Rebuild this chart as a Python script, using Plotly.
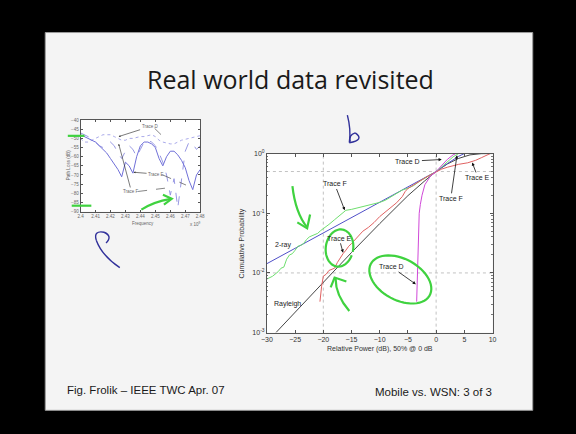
import numpy as np
import plotly.graph_objects as go

W, H = 576, 434

# ---------------- Main CDF panel data ----------------
# Relative power (dB, median normalised to 0 dB) vs cumulative probability
rayleigh_x = [-28.4, -25, -20, -15, -10, -5, -2, 0, 2, 4, 6, 8, 10]
rayleigh_p = [0.001, 0.0022, 0.0069, 0.022, 0.067, 0.197, 0.35, 0.5, 0.67, 0.83, 0.95, 0.995, 1.0]

tworay_x = [-30, -25, -20, -15, -10, -5, -2, 0, 2, 4, 5]
tworay_p = [0.0143, 0.026, 0.047, 0.085, 0.153, 0.28, 0.4, 0.5, 0.68, 0.9, 1.0]

traceF_x = [-30, -29, -28, -27.5, -27, -26.5, -26, -25.5, -25, -24.5, -24, -23.5, -23, -22.5,
            -22, -21, -20.5, -20, -19, -18, -17, -16.5, -16, -15, -14, -13, -12, -11, -10,
            -9, -8, -7, -6, -5, -4, -3, -2, -1, 0, 1, 2, 3, 4]
traceF_p = [0.0079, 0.0088, 0.0105, 0.012, 0.0125, 0.017, 0.02, 0.021, 0.024, 0.028, 0.029,
            0.031, 0.036, 0.04, 0.042, 0.046, 0.051, 0.055, 0.065, 0.078, 0.095, 0.105, 0.112,
            0.116, 0.122, 0.128, 0.135, 0.142, 0.152, 0.165, 0.19, 0.22, 0.245, 0.262, 0.29,
            0.34, 0.39, 0.44, 0.5, 0.6, 0.72, 0.88, 1.0]

traceE_x = [-20.6, -20.5, -20.3, -20, -19.5, -19, -18.5, -18, -17.5, -17, -16.5, -16, -15.5,
            -15, -14, -13, -12, -11, -10, -9, -8, -7, -6, -5.5, -5, -4, -3, -2, -1, 0,
            1, 2, 3, 4, 5.6, 7, 8, 9, 9.6]
traceE_p = [0.0033, 0.0045, 0.006, 0.0088, 0.0095, 0.011, 0.0115, 0.012, 0.015, 0.018, 0.021,
            0.024, 0.028, 0.031, 0.04, 0.05, 0.058, 0.07, 0.088, 0.105, 0.125, 0.15, 0.19,
            0.23, 0.26, 0.3, 0.34, 0.39, 0.44, 0.5, 0.55, 0.59, 0.63, 0.66, 0.7, 0.77, 0.85,
            0.93, 1.0]

traceD_x = [-3.45, -3.4, -3.35, -3.3, -3.2, -3.1, -3.0, -2.8, -2.5, -2.0, -1.5, -1.0, 0, 1, 2, 3, 3.5]
traceD_p = [0.0033, 0.005, 0.01, 0.02, 0.04, 0.07, 0.1, 0.14, 0.2, 0.3, 0.36, 0.42, 0.5, 0.62, 0.8, 0.95, 1.0]

main_xticks = [-30, -25, -20, -15, -10, -5, 0, 5, 10]
main_yticks = [0.001, 0.01, 0.1, 1]
main_yticktext = ["10<sup>-3</sup>", "10<sup>-2</sup>", "10<sup>-1</sup>", "10<sup>0</sup>"]

# ---------------- Inset path-loss panel data ----------------
freq = [2.4000, 2.4025, 2.4050, 2.4075, 2.4100, 2.4125, 2.4150, 2.4175, 2.4200, 2.4225, 2.4250,
        2.4275, 2.4300, 2.4325, 2.4350, 2.4375, 2.4400, 2.4425, 2.4450, 2.4475, 2.4500, 2.4525,
        2.4550, 2.4575, 2.4600, 2.4625, 2.4650, 2.4675, 2.4700, 2.4725, 2.4750, 2.4775, 2.4800]
loss_D = [-50, -52, -52, -51, -50, -49, -48, -48, -48, -49, -50, -51, -51, -50, -50, -49.5, -49,
          -49, -48.5, -48, -49, -51, -52, -52.5, -53, -53, -52, -51, -50.5, -50, -49.5, -49, -48.5]
loss_E = [-48, -49, -50, -51, -52, -54, -56, -58, -61, -64, -67, -71, -63, -65, -69, -60, -54,
          -52, -52, -53, -55, -61, -65, -60, -57, -57, -59, -62, -66, -73, -78, -70, -67]
loss_F = [-47, -48, -49, -50, -52, -54, -55, -53, -52, -54, -58, -61, -57, -54, -56, -60, -56,
          -52, -51, -52, -54, -58, -63, -70, -81, -72, -88, -71, -57, -52, -53, -56, -54]
inset_xticks = [2.40, 2.41, 2.42, 2.43, 2.44, 2.45, 2.46, 2.47, 2.48]
inset_xticktext = ["2.4", "2.41", "2.42", "2.43", "2.44", "2.45", "2.46", "2.47", "2.48"]
inset_yticks = [-90, -85, -80, -75, -70, -65, -60, -55, -50, -45, -40]


def px(x):
    return x / W


def py(y):
    return 1 - y / H


def path(points):
    return "M " + " L ".join(f"{px(a):.5f},{py(b):.5f}" for a, b in points)


def qpath(p0, c, p1):
    return (f"M {px(p0[0]):.5f},{py(p0[1]):.5f} Q {px(c[0]):.5f},{py(c[1]):.5f} "
            f"{px(p1[0]):.5f},{py(p1[1]):.5f}")


def ellipse_path(cx, cy, rx, ry, rot_deg, t0=0.0, t1=2 * np.pi, n=60):
    t = np.linspace(t0, t1, n)
    r = np.deg2rad(rot_deg)
    xs = cx + rx * np.cos(t) * np.cos(r) - ry * np.sin(t) * np.sin(r)
    ys = cy + rx * np.cos(t) * np.sin(r) + ry * np.sin(t) * np.cos(r)
    return path(list(zip(xs, ys)))


fig = go.Figure()

line_w = 1.0
fig.add_trace(go.Scatter(x=rayleigh_x, y=rayleigh_p, mode="lines",
                         line=dict(color="#303030", width=0.9), xaxis="x", yaxis="y"))
fig.add_trace(go.Scatter(x=tworay_x, y=tworay_p, mode="lines",
                         line=dict(color="#5050c8", width=line_w), xaxis="x", yaxis="y"))
fig.add_trace(go.Scatter(x=traceF_x, y=traceF_p, mode="lines",
                         line=dict(color="#6ede6e", width=line_w), xaxis="x", yaxis="y"))
fig.add_trace(go.Scatter(x=traceE_x, y=traceE_p, mode="lines",
                         line=dict(color="#e06262", width=line_w), xaxis="x", yaxis="y"))
fig.add_trace(go.Scatter(x=traceD_x, y=traceD_p, mode="lines",
                         line=dict(color="#d048d8", width=line_w), xaxis="x", yaxis="y"))

fig.add_trace(go.Scatter(x=freq, y=loss_D, mode="lines",
                         line=dict(color="#a0a0e8", width=0.9, dash="dot"), xaxis="x2", yaxis="y2"))
fig.add_trace(go.Scatter(x=freq, y=loss_F, mode="lines",
                         line=dict(color="#8c8ce0", width=0.9, dash="dash"), xaxis="x2", yaxis="y2"))
fig.add_trace(go.Scatter(x=freq, y=loss_E, mode="lines",
                         line=dict(color="#7070d8", width=1.0), xaxis="x2", yaxis="y2"))

# Panel placement (pixels)
MX0, MX1, MY0, MY1 = 266, 496, 152, 334
IX0, IX1, IY0, IY1 = 76, 198, 118, 211

axis_common = dict(showline=True, linecolor="#555555", linewidth=1, mirror="allticks",
                   ticks="inside", tickcolor="#555555", showgrid=False, zeroline=False)
main_font = dict(family="Liberation Sans, Arial", size=7, color="#333333")
small = dict(family="Liberation Sans, Arial", size=4.5, color="#666666")

fig.update_layout(
    width=W, height=H,
    margin=dict(l=0, r=0, t=0, b=0),
    paper_bgcolor="#000000",
    plot_bgcolor="rgba(0,0,0,0)",
    showlegend=False,
    xaxis=dict(domain=[px(MX0), px(MX1)], range=[-30, 10], tickvals=main_xticks,
               ticklen=3, tickfont=main_font, anchor="y", **axis_common),
    yaxis=dict(domain=[py(MY1), py(MY0)], type="log", range=[-3, 0], tickvals=main_yticks,
               ticktext=main_yticktext, ticklen=3, tickfont=main_font, anchor="x",
               minor=dict(ticks="inside", ticklen=1.5, tickcolor="#777777",
                          tickvals=[m * 10.0 ** e for e in (-3, -2, -1) for m in range(2, 10)]),
               **axis_common),
    xaxis2=dict(domain=[px(IX0), px(IX1)], range=[2.40, 2.48], tickvals=inset_xticks,
                ticktext=inset_xticktext, ticklen=2, tickfont=small, anchor="y2", **axis_common),
    yaxis2=dict(domain=[py(IY1), py(IY0)], range=[-90, -40], tickvals=inset_yticks, ticklen=2,
                tickfont=small, anchor="x2", **axis_common),
)

shapes = []
# slide body
shapes.append(dict(type="rect", xref="paper", yref="paper", x0=px(40), x1=px(537), y0=py(413), y1=py(29),
                   fillcolor="#f4f4f4", line=dict(color="#9a9a9a", width=1), layer="below"))
# white figure backgrounds
shapes.append(dict(type="rect", xref="paper", yref="paper", x0=px(MX0), x1=px(MX1), y0=py(MY1), y1=py(MY0),
                   fillcolor="#ffffff", line=dict(width=0), layer="below"))
shapes.append(dict(type="rect", xref="paper", yref="paper", x0=px(IX0), x1=px(IX1), y0=py(IY1), y1=py(IY0),
                   fillcolor="#ffffff", line=dict(width=0), layer="below"))
# dotted reference lines in the CDF panel
for xv in (-20, 0):
    shapes.append(dict(type="line", xref="x", yref="paper", x0=xv, x1=xv, y0=py(MY1), y1=py(MY0),
                       line=dict(color="#a8a8a8", width=0.7, dash="dot"), layer="below"))
for yv in (0.01, 0.5):
    shapes.append(dict(type="line", xref="paper", yref="y", x0=px(MX0), x1=px(MX1),
                       y0=yv, y1=yv, line=dict(color="#a8a8a8", width=0.7, dash="dot"), layer="below"))

# secondary leader lines for the inset labels (label position -> curve)
for (x0, y0, x1, y1) in [(2.4495, -44.5, 2.4545, -48.5),
                         (2.4550, -70.0, 2.4705, -75.5),
                         (2.4385, -79.0, 2.4585, -77.0)]:
    shapes.append(dict(type="line", xref="x2", yref="y2", x0=x0, y0=y0, x1=x1, y1=y1,
                       line=dict(color="#333333", width=0.6, dash="dash")))

# hand-drawn ink
green = dict(color="#3fd23f", width=2.2)
blue_ink = dict(color="#30309a", width=1.4)
ink = [
    (qpath((292, 185), (295, 212), (307, 227)), green),
    (path([(297, 222), (307, 228), (310, 214)]), green),
    (ellipse_path(340, 248, 14, 19, 8, 0.3, 2 * np.pi + 0.1), green),
    (qpath((350, 312), (336, 296), (336, 279)), green),
    (path([(331, 288), (335, 278), (347, 282)]), green),
    (ellipse_path(402, 280, 34, 21, 28, -1.5, 2 * np.pi - 1.3), green),
    (path([(63, 134), (80, 134)]), green),
    (path([(67, 205), (87, 205)]), green),
    (qpath((138, 209), (150, 201), (168, 198)), green),
    (path([(160, 194), (169, 198), (161, 204)]), green),
    (qpath((348, 113), (352, 128), (350, 141)), blue_ink),
    (qpath((350, 141), (366, 138), (356, 131)), blue_ink),
    (qpath((356, 131), (349, 133), (351, 140)), blue_ink),
    (qpath((116, 268), (98, 256), (92, 240)), blue_ink),
    (qpath((92, 240), (89, 230), (100, 232)), blue_ink),
    (qpath((100, 232), (109, 236), (102, 243)), blue_ink),
]
for d, ln in ink:
    shapes.append(dict(type="path", xref="paper", yref="paper", path=d, line=ln))
fig.update_layout(shapes=shapes)

ann = []
center = dict(xref="paper", yref="paper", showarrow=False, xanchor="center", yanchor="middle")
# slide text
ann.append(dict(x=px(290), y=py(76), text="Real world data revisited",
                font=dict(family="Open Sans, Lato", size=25, color="#1a1a1a"), **center))
ann.append(dict(xref="paper", yref="paper", showarrow=False, yanchor="middle", xanchor="left",
                x=px(60), y=py(392), text="Fig. Frolik \u2013 IEEE TWC Apr. 07",
                font=dict(family="Liberation Sans, Arial", size=11.5, color="#1a1a1a")))
ann.append(dict(xref="paper", yref="paper", showarrow=False, yanchor="middle", xanchor="right",
                x=px(497), y=py(394), text="Mobile vs. WSN: 3 of 3",
                font=dict(family="Liberation Sans, Arial", size=11.5, color="#1a1a1a")))
# axis titles
ann.append(dict(x=px(381), y=py(351), text="Relative Power (dB), 50% @ 0 dB", font=main_font, **center))
ann.append(dict(x=px(241), y=py(243), text="Cumulative Probability", textangle=-90, font=main_font, **center))
ann.append(dict(x=px(140), y=py(223), text="Frequency", font=small, **center))
ann.append(dict(x=px(193), y=py(224), text="x 10<sup>9</sup>", font=small, **center))
ann.append(dict(x=px(64), y=py(164), text="Path Loss (dB)", textangle=-90, font=small, **center))

# CDF panel labels (x in dB, y as log10 probability)
lab = dict(family="Liberation Sans, Arial", size=7, color="#222222")
arrow = dict(showarrow=True, arrowhead=2, arrowsize=0.8, arrowwidth=0.8, arrowcolor="#111111",
             axref="x", ayref="y", xref="x", yref="y", font=lab)
ann.append(dict(x=1.0, y=-0.10, ax=-5.0, ay=-0.13, text="Trace D", **arrow))
ann.append(dict(x=-16.2, y=-0.95, ax=-18.0, ay=-0.51, text="Trace F", **arrow))
ann.append(dict(x=-16.5, y=-1.66, ax=-17.2, ay=-1.42, text="Trace E", **arrow))
ann.append(dict(x=-3.6, y=-2.19, ax=-7.9, ay=-1.90, text="Trace D", **arrow))
ann.append(dict(x=3.7, y=-0.03, ax=2.6, ay=-0.75, text="Trace F", **arrow))
ann.append(dict(x=6.4, y=-0.15, ax=7.4, ay=-0.40, text="Trace E", **arrow))
ann.append(dict(x=-27.1, y=-1.53, xref="x", yref="y", text="2-ray", showarrow=False, font=lab))
ann.append(dict(x=-26.3, y=-2.52, xref="x", yref="y", text="Rayleigh", showarrow=False, font=lab))

# inset labels
sarrow = dict(showarrow=True, arrowhead=2, arrowsize=0.6, arrowwidth=0.6, arrowcolor="#222222",
              axref="x2", ayref="y2", xref="x2", yref="y2", font=small)
ann.append(dict(x=2.4255, y=-49, ax=2.4465, ay=-43.5, text="Trace D", **sarrow))
ann.append(dict(x=2.4355, y=-68.5, ax=2.4505, ay=-69.5, text="Trace E", **sarrow))
ann.append(dict(x=2.4255, y=-53, ax=2.4340, ay=-79, text="Trace F", **sarrow))
fig.update_layout(annotations=ann)

fig.write_html("out.html")
